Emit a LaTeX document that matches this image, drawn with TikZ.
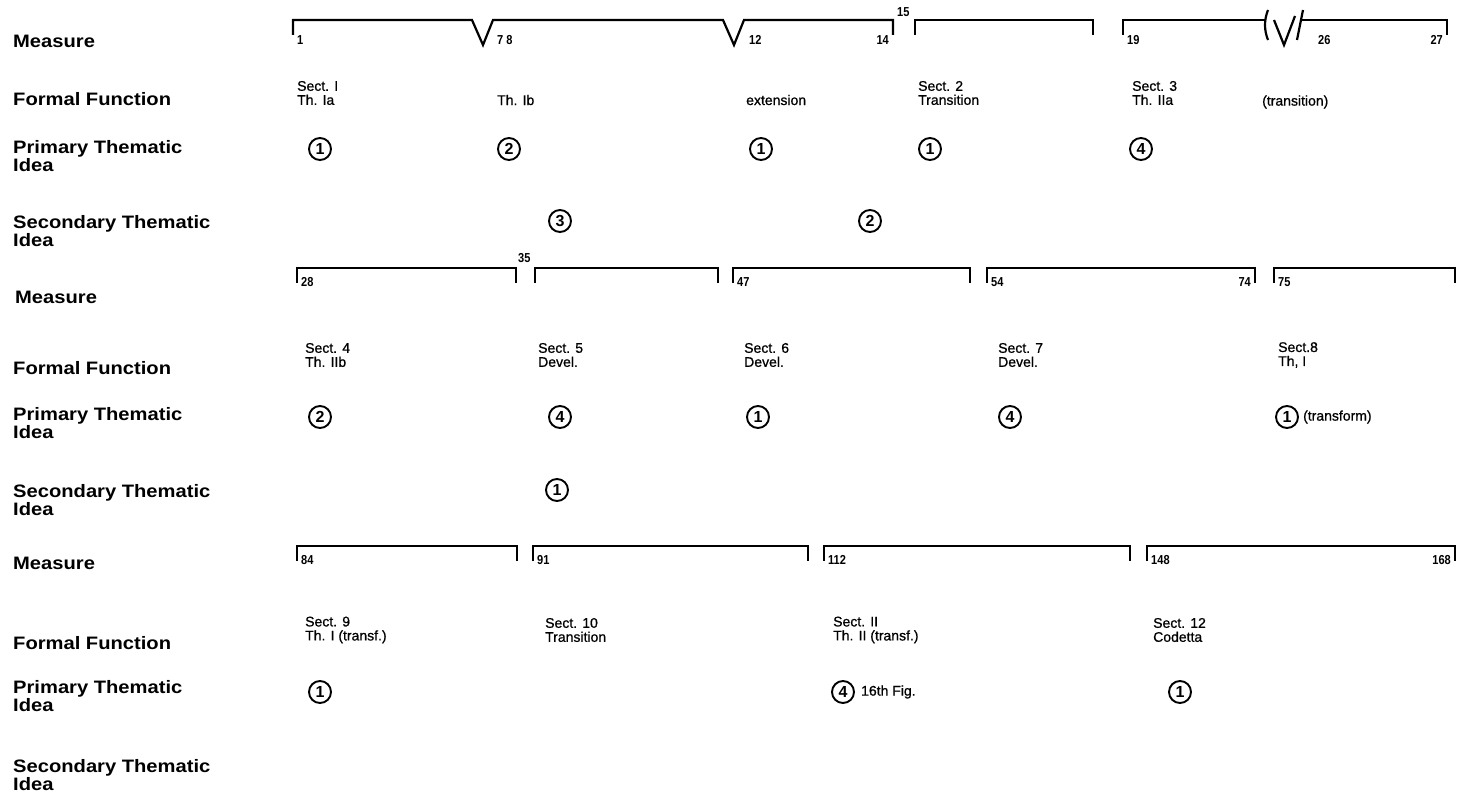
\documentclass[tikz,border=0pt]{standalone}
\usepackage{fontspec}
\setmainfont{Liberation Sans}
\newfontfamily\headfont[FakeStretch=1.12]{Liberation Sans}
\newfontfamily\bodyfont[FakeBold=0.8]{Liberation Sans}
\newfontfamily\numfont[FakeStretch=0.85]{Liberation Sans}
\usetikzlibrary{positioning}

\begin{document}
\begin{tikzpicture}[x=1pt,y=-1pt,line join=miter,
  rowlab/.style={anchor=west,align=left,inner sep=0pt,font=\headfont\bfseries\fontsize{18}{16}\selectfont},
  func/.style={anchor=west,align=left,inner sep=0pt,font=\bodyfont\fontsize{14}{14}\selectfont},
  bar/.style={line width=2.2pt},
  meas/.style={inner sep=0pt,font=\numfont\bfseries\fontsize{13}{13}\selectfont},
  idea/.style={circle,draw,line width=1.9pt,minimum size=22pt,inner sep=0pt,font=\bfseries\fontsize{16}{16}\selectfont}]
\useasboundingbox (0,0) rectangle (1459,799);
\node[rowlab] (measA) at (13,41) {Measure};
\node[rowlab] (formA) at (13,99) {Formal Function};
\node[rowlab] (primA) at (13,156) {Primary Thematic\\Idea};
\node[rowlab] (secA) at (13,231) {Secondary Thematic\\Idea};
\draw[bar] (293,35) -- (293,20) -- (472,20) -- (483,45) -- (493,20) -- (723,20) -- (734,45) -- (744,20) -- (893,20) -- (893,35);
\draw[bar] (915,35) -- (915,20) -- (1093,20) -- (1093,35);
\draw[bar] (1123,35) -- (1123,20) -- (1266,20);
\draw[bar] (1268,10) .. controls (1264,20) and (1264,30) .. (1268,40);
\draw[bar] (1274,20) -- (1284,45) -- (1295,16);
\draw[bar] (1303,10) -- (1297,40);
\draw[bar] (1300,20) -- (1447,20) -- (1447,35);
\node[meas,anchor=west] (m1) at (297,40) {1};
\node[meas,anchor=west] (m7) at (497,40) {7 8};
\node[meas,anchor=west] (m12) at (749,40) {12};
\node[meas,anchor=east] (m14) at (889,40) {14};
\node[meas,anchor=west] (m15) at (897,12) {15};
\node[meas,anchor=west] (m19) at (1127,40) {19};
\node[meas,anchor=west] (m26) at (1318,40) {26};
\node[meas,anchor=east] (m27) at (1443,40) {27};
\node[func] (f1) at (297,93) {Sect. I\\Th. Ia};
\node[func] (f1b) at (497,100) {Th. Ib};
\node[func] (f1c) at (746,100) {extension};
\node[func] (f2) at (918,93) {Sect. 2\\Transition};
\node[func] (f3) at (1132,93) {Sect. 3\\Th. IIa};
\node[func] (f3b) at (1262,102) {(transition)};
\node[idea] (pA1) at (320,149) {1};
\node[idea] (pA2) at (509,149) {2};
\node[idea] (pA3) at (761,149) {1};
\node[idea] (pA4) at (930,149) {1};
\node[idea] (pA5) at (1141,149) {4};
\node[idea] (sA1) at (560,221) {3};
\node[idea] (sA2) at (870,221) {2};
\node[rowlab] (measB) at (15,297) {Measure};
\node[rowlab] (formB) at (13,368) {Formal Function};
\node[rowlab] (primB) at (13,423) {Primary Thematic\\Idea};
\node[rowlab] (secB) at (13,500) {Secondary Thematic\\Idea};
\draw[bar] (297,283) -- (297,268) -- (516,268) -- (516,283);
\draw[bar] (535,283) -- (535,268) -- (718,268) -- (718,283);
\draw[bar] (733,283) -- (733,268) -- (970,268) -- (970,283);
\draw[bar] (987,283) -- (987,268) -- (1255,268) -- (1255,283);
\draw[bar] (1274,283) -- (1274,268) -- (1455,268) -- (1455,283);
\node[meas,anchor=west] (m28) at (301,282) {28};
\node[meas,anchor=west] (m35) at (518,258) {35};
\node[meas,anchor=west] (m47) at (737,282) {47};
\node[meas,anchor=west] (m54) at (991,282) {54};
\node[meas,anchor=east] (m74) at (1251,282) {74};
\node[meas,anchor=west] (m75) at (1278,282) {75};
\node[func] (f4) at (305,355) {Sect. 4\\Th. IIb};
\node[func] (f5) at (538,355) {Sect. 5\\Devel.};
\node[func] (f6) at (744,355) {Sect. 6\\Devel.};
\node[func] (f7) at (998,355) {Sect. 7\\Devel.};
\node[func] (f8) at (1278,355) {Sect.8\\Th, I};
\node[idea] (pB1) at (320,417) {2};
\node[idea] (pB2) at (560,417) {4};
\node[idea] (pB3) at (758,417) {1};
\node[idea] (pB4) at (1010,417) {4};
\node[idea] (pB5) at (1287,417) {1};
\node[func,right=4pt of pB5] (tr8) {(transform)};
\node[idea] (sB1) at (557,490) {1};
\node[rowlab] (measC) at (13,563) {Measure};
\node[rowlab] (formC) at (13,643) {Formal Function};
\node[rowlab] (primC) at (13,696) {Primary Thematic\\Idea};
\node[rowlab] (secC) at (13,775) {Secondary Thematic\\Idea};
\draw[bar] (297,561) -- (297,546) -- (517,546) -- (517,561);
\draw[bar] (533,561) -- (533,546) -- (808,546) -- (808,561);
\draw[bar] (824,561) -- (824,546) -- (1130,546) -- (1130,561);
\draw[bar] (1147,561) -- (1147,546) -- (1455,546) -- (1455,561);
\node[meas,anchor=west] (m84) at (301,560) {84};
\node[meas,anchor=west] (m91) at (537,560) {91};
\node[meas,anchor=west] (m112) at (828,560) {112};
\node[meas,anchor=west] (m148) at (1151,560) {148};
\node[meas,anchor=east] (m168) at (1451,560) {168};
\node[func] (f9) at (305,630) {Sect. 9\\Th. I (transf.)};
\node[func] (f10) at (545,630) {Sect. 10\\Transition};
\node[func] (f11) at (833,630) {Sect. II\\Th. II (transf.)};
\node[func] (f12) at (1153,630) {Sect. 12\\Codetta};
\node[idea] (pC1) at (320,692) {1};
\node[idea] (pC2) at (843,692) {4};
\node[func,right=6pt of pC2] (fig16) {16th Fig.};
\node[idea] (pC3) at (1180,692) {1};
\end{tikzpicture}
\end{document}
